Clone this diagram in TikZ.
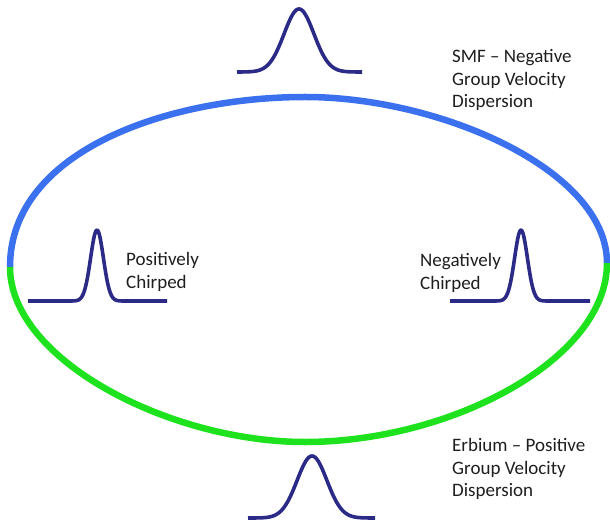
\documentclass[tikz,border=0pt]{standalone}
\usepackage{fontspec}
\setmainfont{Carlito}
\definecolor{smfblue}{RGB}{59,112,238}
\definecolor{erbgreen}{RGB}{30,226,30}
\definecolor{pulsenavy}{RGB}{43,42,134}
\definecolor{txt}{RGB}{30,30,30}
\begin{document}
\begin{tikzpicture}[x=1pt,y=-1pt,
  fiber/.style={line width=6.5pt},
  pulse/.style={draw=pulsenavy,line width=3.6pt,line join=round},
  lbl/.style={inner sep=0pt,align=left,text=txt,font=\fontsize{19}{22.5}\selectfont}]
\useasboundingbox (0,0) rectangle (610,521);
% ring
\coordinate (L) at (10,267);
\coordinate (T) at (305,97);
\coordinate (R) at (607,263);
\coordinate (B) at (305,442);
\draw[fiber,smfblue] (L) .. controls (10,150) and (170,97) .. (T)
  .. controls (440,97) and (607,170) .. (R);
\draw[fiber,erbgreen] (L) .. controls (10,360) and (170,442) .. (B)
  .. controls (450,442) and (607,360) .. (R);
% pulses
\draw[pulse] plot[domain=237:362,samples=120,smooth] (\x,{72-63*exp(-((\x-299)^2)/(2*14.9^2))});
\draw[pulse] plot[domain=248:375,samples=120,smooth] (\x,{518-62*exp(-((\x-312)^2)/(2*14.9^2))});
\draw[pulse] plot[domain=28:167,samples=160,smooth] (\x,{301-71*exp(-((\x-97)^2)/(2*6.4^2))});
\draw[pulse] plot[domain=450:590,samples=160,smooth] (\x,{301-71*exp(-((\x-521)^2)/(2*6.4^2))});
% labels
\node[lbl,anchor=west] (smf) at (452,80) {SMF – Negative\\Group Velocity\\Dispersion};
\node[lbl,anchor=west] (erb) at (452,469) {Erbium – Positive\\Group Velocity\\Dispersion};
\node[lbl,anchor=west] (pos) at (126,272) {Positively\\Chirped};
\node[lbl,anchor=west] (neg) at (420,273) {Negatively\\Chirped};
\end{tikzpicture}
\end{document}
